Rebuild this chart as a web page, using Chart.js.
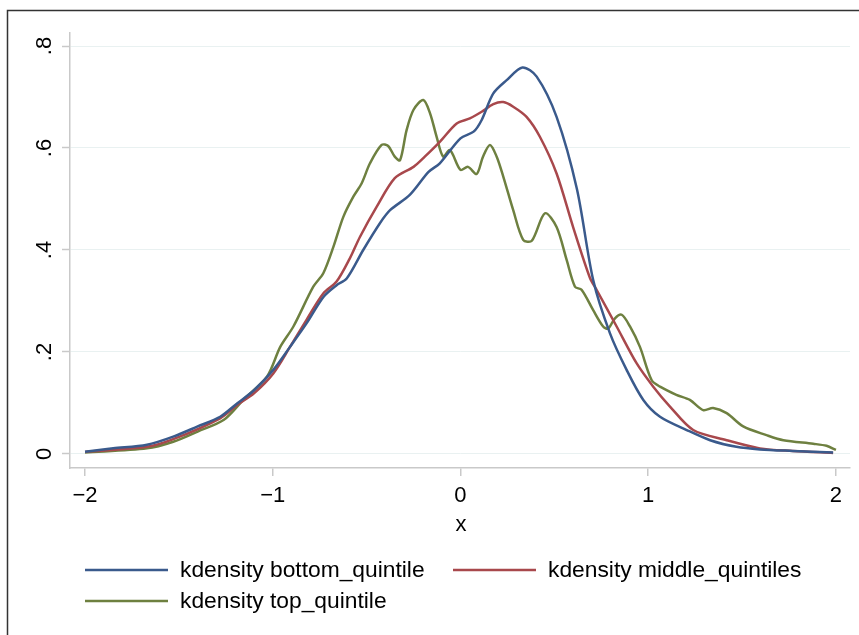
<!DOCTYPE html>
<html>
<head>
<meta charset="utf-8">
<script src="https://cdn.jsdelivr.net/npm/chart.js@4"></script>
<style>
  html, body { margin: 0; padding: 0; background: #fff; }
  #wrap { width: 859px; height: 635px; position: relative; }
</style>
</head>
<body>
<div id="wrap"><canvas id="kdChart" width="859" height="635"></canvas></div>
<script>
// values
const bottomX = [-2, -1.85, -1.67, -1.53, -1.40, -1.28, -1.19, -1.10, -0.997, -0.908, -0.82, -0.73, -0.66, -0.606, -0.518, -0.43, -0.375, -0.27, -0.17, -0.11, 0, 0.07, 0.113, 0.175, 0.246, 0.33, 0.406, 0.512, 0.62, 0.707, 0.796, 0.885, 0.974, 1.063, 1.205, 1.33, 1.47, 1.595, 1.77, 1.985];
const bottomY = [0.0045, 0.011, 0.018, 0.034, 0.054, 0.073, 0.099, 0.125, 0.165, 0.210, 0.256, 0.308, 0.331, 0.344, 0.400, 0.452, 0.478, 0.508, 0.553, 0.570, 0.619, 0.632, 0.655, 0.707, 0.733, 0.758, 0.740, 0.661, 0.520, 0.341, 0.237, 0.165, 0.106, 0.073, 0.047, 0.027, 0.014, 0.009, 0.006, 0.003];

const middleX = [-2, -1.67, -1.53, -1.28, -1.19, -1.10, -0.997, -0.908, -0.82, -0.73, -0.66, -0.59, -0.535, -0.446, -0.35, -0.25, -0.19, -0.11, -0.02, 0.05, 0.113, 0.175, 0.228, 0.281, 0.352, 0.423, 0.512, 0.60, 0.69, 0.725, 0.832, 0.938, 1.027, 1.116, 1.24, 1.418, 1.595, 1.77, 1.985];
const middleY = [0.004, 0.014, 0.029, 0.070, 0.096, 0.119, 0.158, 0.210, 0.263, 0.315, 0.338, 0.383, 0.426, 0.485, 0.541, 0.563, 0.583, 0.612, 0.648, 0.658, 0.671, 0.686, 0.690, 0.681, 0.661, 0.622, 0.550, 0.445, 0.345, 0.322, 0.250, 0.178, 0.132, 0.093, 0.047, 0.027, 0.011, 0.006, 0.002];

const topX = [-2, -1.67, -1.53, -1.40, -1.26, -1.157, -1.03, -0.96, -0.89, -0.784, -0.73, -0.677, -0.624, -0.57, -0.526, -0.482, -0.42, -0.385, -0.35, -0.322, -0.287, -0.25, -0.198, -0.162, -0.127, -0.092, -0.056, 0, 0.04, 0.086, 0.12, 0.157, 0.193, 0.228, 0.281, 0.334, 0.38, 0.45, 0.512, 0.566, 0.61, 0.645, 0.707, 0.76, 0.787, 0.823, 0.859, 0.903, 0.956, 1.018, 1.063, 1.15, 1.222, 1.293, 1.346, 1.418, 1.506, 1.63, 1.72, 1.879, 1.95, 2.0];
const topY = [0.003, 0.011, 0.024, 0.044, 0.067, 0.106, 0.152, 0.210, 0.250, 0.328, 0.355, 0.406, 0.465, 0.505, 0.531, 0.570, 0.606, 0.604, 0.583, 0.576, 0.635, 0.675, 0.694, 0.668, 0.622, 0.583, 0.596, 0.557, 0.563, 0.549, 0.583, 0.606, 0.583, 0.544, 0.478, 0.420, 0.418, 0.472, 0.445, 0.380, 0.328, 0.322, 0.282, 0.250, 0.246, 0.266, 0.273, 0.250, 0.210, 0.145, 0.132, 0.116, 0.106, 0.086, 0.090, 0.080, 0.054, 0.037, 0.027, 0.020, 0.016, 0.008];

const xTicks = [-2, -1, 0, 1, 2];
const yTicks = [0, 0.2, 0.4, 0.6, 0.8];
const yTickLabels = ['0', '.2', '.4', '.6', '.8'];
const seriesNames = ['kdensity bottom_quintile', 'kdensity middle_quintiles', 'kdensity top_quintile'];
const seriesColors = ['#3a5a8c', '#a8484c', '#6e8040'];

function pairs(xs, ys) {
  return xs.map((x, i) => ({ x: x, y: ys[i] }));
}

const FONT = 'Liberation Sans, Arial, sans-serif';

// y labels (rotated), x title, legend and outer frame
const stataBits = {
  id: 'stataBits',
  afterDraw(chart) {
    const c = chart.ctx;
    const ys = chart.scales.y;
    const xs = chart.scales.x;
    c.save();
    c.fillStyle = '#000';
    c.font = '22px ' + FONT;
    c.textAlign = 'center';
    c.textBaseline = 'middle';
    yTicks.forEach((v, i) => {
      c.save();
      c.translate(45, ys.getPixelForValue(v));
      c.rotate(-Math.PI / 2);
      c.fillText(yTickLabels[i], 0, 0);
      c.restore();
    });
    // axis title
    c.fillText('x', (xs.left + xs.right) / 2 + 1, 525);

    // legend
    c.font = '22.8px ' + FONT;
    c.textAlign = 'left';
    const spots = [[85, 570], [453, 570], [85, 601]];
    chart.data.datasets.forEach((ds, i) => {
      const [lx, ly] = spots[i];
      c.strokeStyle = ds.borderColor;
      c.lineWidth = 2.5;
      c.beginPath();
      c.moveTo(lx, ly);
      c.lineTo(lx + 83, ly);
      c.stroke();
      c.fillText(ds.label, lx + 95, ly + 1);
    });

    // outer frame (only left and top edges show)
    c.strokeStyle = '#333';
    c.lineWidth = 1.5;
    c.strokeRect(7.5, 10.5, 900, 700);
    c.restore();
  }
};

new Chart(document.getElementById('kdChart'), {
  type: 'line',
  data: {
    datasets: [
      { label: seriesNames[0], data: pairs(bottomX, bottomY), borderColor: seriesColors[0] },
      { label: seriesNames[1], data: pairs(middleX, middleY), borderColor: seriesColors[1] },
      { label: seriesNames[2], data: pairs(topX, topY), borderColor: seriesColors[2] }
    ]
  },
  options: {
    responsive: false,
    animation: false,
    layout: { padding: { top: 33, right: 9, left: 0, bottom: 0 } },
    elements: {
      point: { radius: 0 },
      line: { borderWidth: 2.5, tension: 0.3, fill: false }
    },
    plugins: {
      legend: { display: false },
      tooltip: { enabled: false }
    },
    scales: {
      x: {
        type: 'linear',
        min: -2.08,
        max: 2.075,
        afterBuildTicks: (s) => { s.ticks = xTicks.map(v => ({ value: v })); },
        afterFit: (s) => { s.height = 167; },
        border: { color: '#c9c9c9', width: 1.5 },
        grid: { display: true, drawOnChartArea: false, drawTicks: true, tickLength: 8, color: '#c9c9c9', lineWidth: 1.5 },
        ticks: {
          color: '#000',
          padding: 7,
          maxRotation: 0,
          font: { size: 22, family: FONT },
          callback: (v) => (v < 0 ? '\u2212' + Math.abs(v) : String(v))
        }
      },
      y: {
        type: 'linear',
        min: -0.0275,
        max: 0.8255,
        afterBuildTicks: (s) => { s.ticks = yTicks.map(v => ({ value: v })); },
        afterFit: (s) => { s.width = 70; },
        border: { color: '#c9c9c9', width: 1.5 },
        grid: {
          color: '#e9f1f1',
          lineWidth: 1,
          tickLength: 8,
          tickColor: '#c9c9c9',
          tickWidth: 1.5
        },
        ticks: { display: false }
      }
    }
  },
  plugins: [stataBits]
});
</script>
</body>
</html>
